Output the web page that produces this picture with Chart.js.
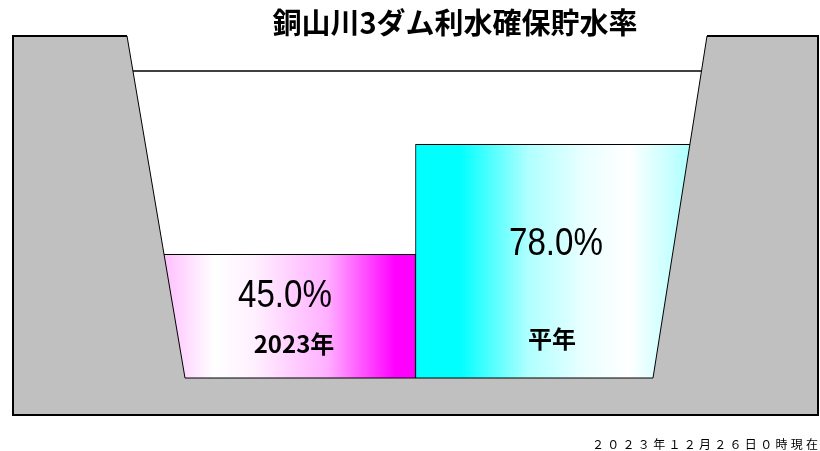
<!DOCTYPE html>
<html><head><meta charset="utf-8">
<script src="https://cdn.jsdelivr.net/npm/chart.js@4"></script>
<style>html,body{margin:0;padding:0;background:#fff;}canvas{display:block}</style>
</head><body>
<canvas id="c" width="820" height="451"></canvas>
<script>
// ---- data ----
const categories = ["2023年", "平年"];
const rates = [45.0, 78.0];
const valueLabels = ["45.0%", "78.0%"];
const chartTitle = "銅山川3ダム利水確保貯水率";
const asOfText = "２０２３年１２月２６日０時現在";
const fullLevel = 100;      // 満水(100%)ライン
const valleyFloor = 7.9;    // ダム底の水位 (%)

// ---- styling / layout (not data) ----
const DAM = { topLeft: 114, botLeft: 172, botRight: 640, topRight: 694 }; // offsets from chart area left
const LABELS = [
  { valX: 272, valY: 307, catX: 281, catY: 353 },
  { valX: 543, valY: 255, catX: 539, catY: 348 }
];
const GRADS = [
  [[0, '#ff00ff'], [0.5, '#ffffff'], [0.6, '#fff0ff'], [0.78, '#ffb0ff'], [0.95, '#ff00ff'], [1, '#ff00ff']],
  [[0, '#00ffff'], [0.11, '#00ffff'], [0.28, '#b0ffff'], [0.42, '#eaffff'], [0.53, '#ffffff'], [1, '#00ffff']]
];

function barGradient(ctx) {
  const chart = ctx.chart, ca = chart.chartArea;
  if (!ca) return '#ccc';
  const i = ctx.dataIndex;
  const w = ca.width / categories.length;
  const l = ca.left + i * w;
  const g = chart.ctx.createLinearGradient(l, 0, l + w, 0);
  GRADS[i].forEach(s => g.addColorStop(s[0], s[1]));
  return g;
}

const damPlugin = {
  id: 'dam',
  beforeDatasetsDraw(chart) {
    const { ctx, chartArea: ca, scales: { y } } = chart;
    const yf = y.getPixelForValue(fullLevel);
    ctx.save();
    ctx.strokeStyle = '#000'; ctx.lineWidth = 1.5;
    ctx.beginPath(); ctx.moveTo(ca.left, yf); ctx.lineTo(ca.right, yf); ctx.stroke();
    ctx.restore();
  },
  afterDatasetsDraw(chart) {
    const { ctx, chartArea: ca, scales: { y } } = chart;
    const L = ca.left, T = ca.top, R = ca.right, B = ca.bottom;
    const yb = y.getPixelForValue(valleyFloor);
    ctx.save();
    ctx.beginPath();
    ctx.moveTo(L, T);
    ctx.lineTo(L + DAM.topLeft, T);
    ctx.lineTo(L + DAM.botLeft, yb);
    ctx.lineTo(L + DAM.botRight, yb);
    ctx.lineTo(L + DAM.topRight, T);
    ctx.lineTo(R, T);
    ctx.lineTo(R, B);
    ctx.lineTo(L, B);
    ctx.closePath();
    ctx.fillStyle = '#c0c0c0';
    ctx.fill();
    ctx.strokeStyle = '#000'; ctx.lineWidth = 1; ctx.lineJoin = 'miter';
    ctx.stroke();
    // heavier outer frame
    ctx.lineWidth = 2;
    ctx.beginPath();
    ctx.moveTo(L + DAM.topLeft, T); ctx.lineTo(L, T); ctx.lineTo(L, B); ctx.lineTo(R, B); ctx.lineTo(R, T); ctx.lineTo(L + DAM.topRight, T);
    ctx.stroke();
    ctx.restore();
  },
  afterDraw(chart) {
    const { ctx } = chart;
    ctx.save();
    ctx.fillStyle = '#000';
    // title
    ctx.font = 'bold 29px "Noto Sans CJK JP"';
    ctx.textAlign = 'center'; ctx.textBaseline = 'middle';
    ctx.fillText(chartTitle, 455, 23);
    // bar labels
    ctx.textBaseline = 'alphabetic';
    LABELS.forEach((p, i) => {
      ctx.font = '38px "Liberation Sans"';
      const w = ctx.measureText(valueLabels[i]).width;
      const sx = 94 / w;
      ctx.save();
      ctx.translate(p.valX + 13, p.valY);
      ctx.scale(sx, 1);
      ctx.textAlign = 'center';
      ctx.fillText(valueLabels[i], 0, 0);
      ctx.restore();
      ctx.font = 'bold 24px "Noto Sans CJK JP"';
      ctx.textAlign = 'center';
      ctx.fillText(categories[i], p.catX + 13, p.catY);
    });
    // date
    ctx.font = '12px "Noto Sans CJK JP"';
    ctx.textAlign = 'center'; ctx.textBaseline = 'middle';
    const chars = Array.from(asOfText);
    const x0 = 598, x1 = 812;
    const step = (x1 - x0) / (chars.length - 1);
    chars.forEach((c, k) => ctx.fillText(c, x0 + k * step, 444));
    ctx.restore();
  }
};

new Chart(document.getElementById('c'), {
  type: 'bar',
  data: {
    labels: categories,
    datasets: [{
      data: rates,
      backgroundColor: barGradient,
      borderColor: '#000',
      borderWidth: 1,
      borderSkipped: false,
      barPercentage: 1,
      categoryPercentage: 1
    }]
  },
  options: {
    responsive: false,
    animation: false,
    events: [],
    layout: { padding: { left: 13, right: 2, top: 36, bottom: 36 } },
    scales: {
      x: { display: false },
      y: { display: false, min: -3.2, max: 110.5 }
    },
    plugins: { legend: { display: false }, title: { display: false }, tooltip: { enabled: false } }
  },
  plugins: [damPlugin]
});
</script>
</body></html>
